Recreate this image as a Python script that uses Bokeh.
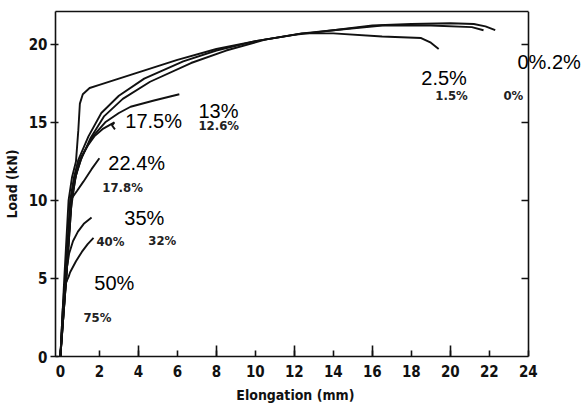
from bokeh.plotting import figure
from bokeh.models import LinearAxis, FixedTicker, Range1d, Label
from bokeh.embed import file_html
from bokeh.resources import INLINE

# ---- data (elongation mm, load kN) ----
s_x = [0, 0.2, 0.42, 0.6, 0.8, 0.92, 1.0, 1.15, 1.5, 2.0, 3.0, 4.0, 5.0, 6.0, 8.0, 10.0, 12.0, 14.0, 16.0, 18.0, 20.0, 21.2, 21.8, 22.3]
s_y = [0, 5, 10, 11.5, 12.5, 14.5, 16.2, 16.8, 17.2, 17.4, 17.8, 18.2, 18.6, 19.0, 19.7, 20.2, 20.6, 20.9, 21.2, 21.3, 21.35, 21.3, 21.15, 20.9]

a_x = [0, 0.25, 0.5, 0.7, 0.92, 1.44, 2.1, 3.0, 4.3, 6.3, 8.0, 10.0, 12.4, 14.0, 16.5, 19.0, 21.1, 21.7]
a_y = [0, 5, 10, 11.5, 12.6, 14.1, 15.6, 16.7, 17.8, 18.9, 19.6, 20.2, 20.7, 20.9, 21.2, 21.2, 21.1, 20.9]

b_x = [0, 0.3, 0.55, 0.78, 1.05, 1.55, 2.25, 3.2, 4.6, 6.7, 8.5, 10.5, 12.4, 14.0, 16.5, 18.5, 19.0, 19.4]
b_y = [0, 5, 10, 11.6, 12.6, 14.0, 15.4, 16.5, 17.6, 18.8, 19.6, 20.3, 20.7, 20.7, 20.5, 20.4, 20.1, 19.7]

c_x = [0, 0.3, 0.58, 0.8, 1.1, 1.6, 2.3, 3.0, 3.6, 4.8, 6.1]
c_y = [0, 5, 10, 11.6, 12.8, 14.0, 15.0, 15.6, 16.0, 16.4, 16.8]

d_x = [0, 0.3, 0.55, 0.75, 0.95, 1.08, 1.4, 1.74, 2.2, 2.77, 2.65, 2.8]
d_y = [0, 5, 9.5, 11.3, 12.4, 12.8, 13.5, 14.1, 14.6, 15.0, 14.8, 14.55]

e_x = [0, 0.3, 0.56, 0.85, 1.18, 1.6, 2.0]
e_y = [0, 5.2, 10.1, 10.6, 11.2, 12.0, 12.7]

f_x = [0, 0.25, 0.45, 0.65, 0.9, 1.2, 1.6]
f_y = [0, 5, 6.6, 7.4, 8.0, 8.5, 8.9]

g_x = [0, 0.2, 0.42, 0.5, 0.8, 1.1, 1.4, 1.7]
g_y = [0, 4.5, 5.1, 5.4, 6.1, 6.7, 7.2, 7.6]

h_x = [0, 0.12, 0.25, 0.35]
h_y = [0, 3.0, 4.5, 5.0]

curves = [(s_x, s_y), (a_x, a_y), (b_x, b_y), (c_x, c_y), (d_x, d_y),
          (e_x, e_y), (f_x, f_y), (g_x, g_y), (h_x, h_y)]

x_ticks = [0, 2, 4, 6, 8, 10, 12, 14, 16, 18, 20, 22, 24]
x_long_ticks = [4, 8, 12, 16, 20]
y_ticks = [0, 5, 10, 15, 20]
X_MIN, X_MAX, Y_MIN, Y_MAX = -0.25, 24, 0, 22.1

big_text = ["17.5%", "13%", "22.4%", "35%", "50%", "2.5%", "0%.2%"]
big_x = [3.33, 7.08, 2.46, 3.28, 1.74, 18.51, 23.44]
big_y = [15.06, 15.7, 12.37, 8.85, 4.68, 17.82, 18.85]

small_text = ["12.6%", "17.8%", "32%", "40%", "75%", "1.5%", "0%"]
small_x = [7.08, 2.15, 4.51, 1.85, 1.18, 19.23, 22.72]
small_y = [14.81, 10.83, 7.44, 7.37, 2.5, 16.73, 16.73]

TICK_FONT = "DejaVu Sans Condensed"
INK = "#111111"

# frame extends past the box on the right so that the labels there are not clipped
p = figure(frame_width=528, frame_height=345,
           x_range=Range1d(X_MIN, X_MIN + 528 / 19.5), y_range=Range1d(Y_MIN, Y_MAX),
           output_backend="svg", toolbar_location=None,
           min_border_left=46, min_border_right=0, min_border_top=11, min_border_bottom=40,
           background_fill_color="white", border_fill_color="white")
p.grid.visible = False
p.outline_line_color = None

for cx, cy in curves:
    p.line(cx, cy, line_color=INK, line_width=1.9)

xa = p.xaxis[0]
xa.bounds = (X_MIN, X_MAX)
xa.ticker = FixedTicker(ticks=x_ticks)
xa.major_tick_in = 6
xa.major_tick_out = 0
xa.minor_tick_line_color = None
xa.axis_line_width = 1.6
xa.axis_line_color = INK
xa.major_tick_line_width = 1.6
xa.major_tick_line_color = INK
xa.major_label_text_font = TICK_FONT
xa.major_label_text_font_style = "bold"
xa.major_label_text_font_size = "15px"
xa.major_label_text_color = INK
xa.major_label_standoff = 8
# trailing no-break spaces shift the centred title over the box (not the wider frame)
xa.axis_label = "Elongation (mm)" + "\u00a0" * 11
xa.axis_label_text_font = TICK_FONT
xa.axis_label_text_font_style = "bold"
xa.axis_label_text_font_size = "14px"
xa.axis_label_text_color = INK
xa.axis_label_standoff = 7

# longer inward ticks every 4 mm, drawn on the bottom line
la = LinearAxis(ticker=FixedTicker(ticks=x_long_ticks), fixed_location=0, bounds=(X_MIN, X_MAX))
la.major_tick_in = 11
la.major_tick_out = 0
la.minor_tick_line_color = None
la.major_tick_line_width = 1.6
la.major_tick_line_color = INK
la.axis_line_color = None
la.major_label_overrides = {t: "" for t in x_long_ticks}
la.major_label_standoff = 0
p.add_layout(la, "below")

ya = p.yaxis[0]
ya.ticker = FixedTicker(ticks=y_ticks)
ya.major_tick_in = 3
ya.major_tick_out = 5
ya.minor_tick_line_color = None
ya.axis_line_width = 1.6
ya.axis_line_color = INK
ya.major_tick_line_width = 1.6
ya.major_tick_line_color = INK
ya.major_label_text_font = TICK_FONT
ya.major_label_text_font_style = "bold"
ya.major_label_text_font_size = "15px"
ya.major_label_text_color = INK
ya.major_label_standoff = 3
ya.axis_label = "Load (kN)"
ya.axis_label_text_font = TICK_FONT
ya.axis_label_text_font_style = "bold"
ya.axis_label_text_font_size = "14px"
ya.axis_label_text_color = INK
ya.axis_label_standoff = 6

# right border of the box, at x = 24, with inward ticks
ra = LinearAxis(ticker=FixedTicker(ticks=y_ticks[1:]), fixed_location=X_MAX)
ra.major_tick_in = 7
ra.major_tick_out = 0
ra.minor_tick_line_color = None
ra.major_tick_line_width = 1.6
ra.major_tick_line_color = INK
ra.axis_line_width = 1.6
ra.axis_line_color = INK
ra.major_label_overrides = {t: "" for t in y_ticks[1:]}
ra.major_label_standoff = 0
p.add_layout(ra, "right")

# top border of the box
ta = LinearAxis(ticker=FixedTicker(ticks=[]), bounds=(X_MIN, X_MAX))
ta.major_tick_in = 0
ta.major_tick_out = 0
ta.minor_tick_line_color = None
ta.axis_line_width = 1.6
ta.axis_line_color = INK
ta.major_label_standoff = 0
p.add_layout(ta, "above")

for t, x, y in zip(small_text, small_x, small_y):
    p.add_layout(Label(x=x, y=y, text=t, text_font=TICK_FONT, text_font_style="bold",
                       text_font_size="13px", text_color="#222222",
                       text_baseline="middle", text_align="left"))
for t, x, y in zip(big_text, big_x, big_y):
    p.add_layout(Label(x=x, y=y, text=t, text_font="Liberation Sans",
                       text_font_size="20px", text_color="black",
                       text_baseline="middle", text_align="left"))

open("out.html", "w").write(file_html(p, INLINE))
